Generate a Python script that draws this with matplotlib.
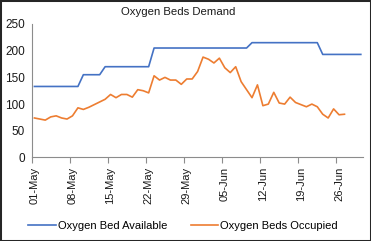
import matplotlib
matplotlib.use('Agg')
import matplotlib.pyplot as plt
from matplotlib.patches import Rectangle

# dates 01-May .. 30-Jun (61 days), tick every 7 days
tick_labels = ['01-May', '08-May', '15-May', '22-May', '29-May',
               '05-Jun', '12-Jun', '19-Jun', '26-Jun']

beds_available = ([133] * 9 + [155] * 4 + [170] * 9 + [205] * 18
                  + [215] * 13 + [193] * 8)

beds_occupied = [74, 72, 70, 76, 78, 74, 72, 78, 93, 90,
                 94, 99, 104, 109, 118, 112, 118, 118, 113, 127,
                 125, 121, 153, 145, 150, 145, 145, 137, 147, 147,
                 161, 188, 184, 177, 186, 168, 159, 170, 142, 127,
                 112, 136, 97, 100, 122, 102, 100, 113, 103, 99,
                 95, 100, 95, 81, 74, 91, 80, 81]

plt.rcParams['font.family'] = ['Liberation Sans', 'DejaVu Sans']

fig = plt.figure(figsize=(3.71, 2.41), dpi=100)
fig.patch.set_facecolor('white')
ax = fig.add_axes([0.0854, 0.3465, 0.893, 0.554])

days_avail = list(range(len(beds_available)))
days_occ = list(range(len(beds_occupied)))
ax.plot(days_avail, beds_available, color='#4472C4', lw=1.2, label='Oxygen Bed Available')
ax.plot(days_occ, beds_occupied, color='#ED7D31', lw=1.2, label='Oxygen Beds Occupied')

ax.set_xlim(-0.5, 60.4)
ax.set_ylim(0, 250)
ax.set_yticks([0, 50, 100, 150, 200, 250])

# labels sit in the middle of the day slot, tick marks on the slot edge
ax.set_xticks([7 * i for i in range(len(tick_labels))])
ax.set_xticklabels(tick_labels, rotation=90, fontsize=8, color='#1a1a1a')
ax.set_xticks([7 * i - 0.5 for i in range(len(tick_labels))], minor=True)
ax.tick_params(axis='x', which='major', length=0, pad=6.5)
ax.tick_params(axis='x', which='minor', length=4, width=0.8, color='#8c8c8c', direction='out')
ax.tick_params(axis='y', length=0, pad=4.8, labelsize=8.5, labelcolor='#1a1a1a')

for side in ['top', 'right']:
    ax.spines[side].set_visible(False)
for side in ['left', 'bottom']:
    ax.spines[side].set_color('#8c8c8c')
    ax.spines[side].set_linewidth(0.8)

fig.text(177.7 / 371, 1 - 11.7 / 241, 'Oxygen Beds Demand', ha='center', va='center',
         fontsize=8.2, color='#1a1a1a')

fig.legend(loc='center', bbox_to_anchor=(183 / 371, 1 - 226 / 241), ncol=2, frameon=False,
           fontsize=8, handlelength=2.45, handletextpad=0.2, columnspacing=2.1,
           borderaxespad=0, borderpad=0)

fig.patches.append(Rectangle((0, 0), 1, 1, transform=fig.transFigure, fill=False,
                             edgecolor='#262626', lw=2.2))

fig.savefig('out.png', dpi=100)
